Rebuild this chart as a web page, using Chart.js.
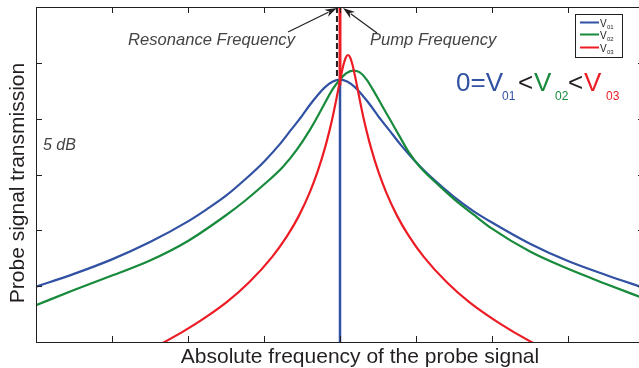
<!DOCTYPE html>
<html>
<head>
<meta charset="utf-8">
<script src="https://cdn.jsdelivr.net/npm/chart.js@4"></script>
<style>
  html, body { margin: 0; padding: 0; background: #fff; overflow: hidden; }
  #wrap { width: 648px; height: 368px; }
</style>
</head>
<body>
<div id="wrap"><canvas id="chart" width="648" height="368"></canvas></div>
<script>
// x: probe detuning in tick units, y: transmission in tick units (1 tick = 5 dB)
const xTicks = [-4, -3, -2, -1, 0, 1, 2, 3, 4];
const yTicks = [0, 1, 2, 3, 4, 5, 6];

const blueX = [-4, -3.5, -3, -2.5, -2, -1.75, -1.5, -1.25, -1, -0.8, -0.65, -0.5, -0.4, -0.3, -0.2, -0.1, 0,
               0.1, 0.2, 0.3, 0.4, 0.5, 0.65, 0.8, 1, 1.25, 1.5, 1.75, 2, 2.5, 3, 3.5, 4];
const blueY = [0.99, 1.22, 1.48, 1.79, 2.16, 2.38, 2.62, 2.91, 3.23, 3.53, 3.79, 4.05, 4.24, 4.41, 4.56, 4.66, 4.7,
               4.66, 4.56, 4.41, 4.24, 4.05, 3.79, 3.53, 3.22, 2.89, 2.6, 2.35, 2.14, 1.76, 1.45, 1.2, 0.97];

const greenX = [-4, -3.5, -3, -2.5, -2, -1.5, -1.25, -1, -0.75, -0.57, -0.4, -0.25, -0.1, 0, 0.08, 0.17,
                0.26, 0.35, 0.45, 0.55, 0.66, 0.79, 0.9, 1.05, 1.28, 1.5, 1.75, 2, 2.5, 3, 3.5, 4];
const greenY = [0.66, 0.93, 1.19, 1.46, 1.81, 2.27, 2.53, 2.82, 3.14, 3.44, 3.79, 4.15, 4.52, 4.7, 4.81, 4.86,
                4.83, 4.7, 4.48, 4.24, 3.98, 3.67, 3.41, 3.14, 2.83, 2.56, 2.29, 2.03, 1.62, 1.31, 1.04, 0.78];

const redX = [-2.695, -2.295, -1.895, -1.495, -1.195, -0.895, -0.695, -0.545, -0.395, -0.295, -0.195, -0.145,
              -0.095, -0.045, -0.015, 0.015, 0.045, 0.075, 0.105, 0.135, 0.165, 0.195, 0.225, 0.255, 0.305,
              0.355, 0.405, 0.505, 0.605, 0.755, 0.905, 1.105, 1.405, 1.705, 2.105, 2.505, 2.905];
const redY = [-0.26, 0.01, 0.33, 0.71, 1.07, 1.52, 1.9, 2.25, 2.69, 3.05, 3.49, 3.75, 4.04, 4.37, 4.58, 4.78,
              4.96, 5.09, 5.14, 5.09, 4.96, 4.78, 4.58, 4.37, 4.04, 3.75, 3.49, 3.05, 2.69, 2.25, 1.9, 1.52,
              1.07, 0.71, 0.33, 0.01, -0.26];

// vertical features at the pump / resonance frequency
const pumpX = [0, 0];
const pumpY = [4.6, 6.5];
const blueDipX = [0, 0];
const blueDipY = [4.7, -0.2];
const resX = [-0.04, -0.04];
const resY = [6, 4.72];

const seriesNames = ['01', '02', '03'];
const BLUE = '#3151a3', GREEN = '#178a3c', RED = '#ec1c24', INK = '#231f20';

function pts(xs, ys) {
    return xs.map((x, i) => ({ x: x, y: ys[i] }));
}

function arrow(ctx, x1, y1, x2, y2) {
    const a = Math.atan2(y2 - y1, x2 - x1);
    const len = 12, w = 4;
    ctx.beginPath();
    ctx.moveTo(x1, y1);
    ctx.lineTo(x2 - Math.cos(a) * len * 0.8, y2 - Math.sin(a) * len * 0.8);
    ctx.stroke();
    ctx.beginPath();
    ctx.moveTo(x2, y2);
    ctx.lineTo(x2 - Math.cos(a) * len - Math.sin(a) * w, y2 - Math.sin(a) * len + Math.cos(a) * w);
    ctx.lineTo(x2 - Math.cos(a) * len * 0.7, y2 - Math.sin(a) * len * 0.7);
    ctx.lineTo(x2 - Math.cos(a) * len + Math.sin(a) * w, y2 - Math.sin(a) * len - Math.cos(a) * w);
    ctx.closePath();
    ctx.fill();
}

const decor = {
    id: 'decor',
    afterDatasetsDraw(chart) {
        const ctx = chart.ctx;
        const a = chart.chartArea;
        const xs = chart.scales.x, ys = chart.scales.y;
        ctx.save();

        // frame with inward ticks
        ctx.strokeStyle = INK;
        ctx.lineWidth = 1;
        ctx.strokeRect(a.left + 0.5, a.top + 0.5, a.right - a.left, a.bottom - a.top);
        ctx.beginPath();
        xTicks.slice(1, -1).forEach(v => {
            const px = Math.round(xs.getPixelForValue(v)) + 0.5;
            ctx.moveTo(px, a.bottom); ctx.lineTo(px, a.bottom - 6);
            ctx.moveTo(px, a.top); ctx.lineTo(px, a.top + 6);
        });
        yTicks.slice(1, -1).forEach(v => {
            const py = Math.round(ys.getPixelForValue(v)) + 0.5;
            ctx.moveTo(a.left, py); ctx.lineTo(a.left + 6, py);
            ctx.moveTo(a.right, py); ctx.lineTo(a.right - 6, py);
        });
        ctx.stroke();

        // axis titles
        ctx.fillStyle = INK;
        ctx.font = '21px "Liberation Sans", Arial, sans-serif';
        ctx.textAlign = 'center';
        ctx.textBaseline = 'alphabetic';
        ctx.fillText('Absolute frequency of the probe signal', 360, 363);
        ctx.save();
        ctx.translate(24, 183);
        ctx.rotate(-Math.PI / 2);
        ctx.fillText('Probe signal transmission', 0, 0);
        ctx.restore();

        // annotations
        ctx.fillStyle = '#444';
        ctx.strokeStyle = INK;
        ctx.font = 'italic 16.6px "Liberation Sans", Arial, sans-serif';
        ctx.textAlign = 'left';
        ctx.fillText('Resonance Frequency', 128, 45);
        ctx.fillText('Pump Frequency', 370, 45);
        ctx.font = 'italic 16px "Liberation Sans", Arial, sans-serif';
        ctx.fillText('5 dB', 43, 150);
        ctx.fillStyle = INK;
        ctx.lineWidth = 1.2;
        const cx = xs.getPixelForValue(0);
        arrow(ctx, 288, 32, cx - 3, a.top + 1);
        arrow(ctx, 377, 33, cx + 3, a.top + 1);

        // 0=V01<V02<V03
        const big = '26px "Liberation Sans", Arial, sans-serif';
        const small = '12px "Liberation Sans", Arial, sans-serif';
        const parts = [
            ['0=V', BLUE, big, 456, 91], ['01', BLUE, small, 502, 100],
            ['<', INK, big, 518, 91], ['V', GREEN, big, 534, 91], ['02', GREEN, small, 555, 100],
            ['<', INK, big, 568, 91], ['V', RED, big, 584, 91], ['03', RED, small, 606, 100]
        ];
        parts.forEach(p => {
            ctx.font = p[2];
            ctx.fillStyle = p[1];
            ctx.fillText(p[0], p[3], p[4]);
        });

        // legend box
        ctx.fillStyle = '#fff';
        ctx.fillRect(575, 14, 47, 43);
        ctx.strokeStyle = INK;
        ctx.lineWidth = 1;
        ctx.strokeRect(575.5, 14.5, 47, 43);
        const rows = [22.5, 34.5, 47.5];
        [BLUE, GREEN, RED].forEach((c, i) => {
            ctx.strokeStyle = c;
            ctx.lineWidth = 2;
            ctx.beginPath();
            ctx.moveTo(580, rows[i]); ctx.lineTo(599, rows[i]);
            ctx.stroke();
            ctx.fillStyle = INK;
            ctx.font = '10px "Liberation Sans", Arial, sans-serif';
            ctx.fillText('V', 600, rows[i] + 4);
            ctx.font = '6px "Liberation Sans", Arial, sans-serif';
            ctx.fillText(seriesNames[i], 607, rows[i] + 6);
        });

        ctx.restore();
    }
};

const line = (data, color, width, order, extra) => Object.assign({
    data: data,
    borderColor: color,
    borderWidth: width,
    pointRadius: 0,
    fill: false,
    order: order,
    cubicInterpolationMode: 'monotone'
}, extra || {});

new Chart(document.getElementById('chart'), {
    type: 'line',
    data: {
        datasets: [
            line(pts(blueX, blueY), BLUE, 2.2, 5),
            line(pts(blueDipX, blueDipY), BLUE, 2.5, 4, { cubicInterpolationMode: 'default', tension: 0 }),
            line(pts(greenX, greenY), GREEN, 2.2, 3),
            line(pts(resX, resY), INK, 2, 2, { cubicInterpolationMode: 'default', tension: 0, borderDash: [6, 3] }),
            line(pts(redX, redY), RED, 2.2, 1),
            line(pts(pumpX, pumpY), RED, 3, 0, { cubicInterpolationMode: 'default', tension: 0 })
        ]
    },
    options: {
        responsive: false,
        animation: false,
        layout: { padding: { left: 36, right: 4, top: 7, bottom: 26 } },
        scales: {
            x: { type: 'linear', min: -4, max: 4, display: false },
            y: { min: 0, max: 6, display: false }
        },
        plugins: {
            legend: { display: false },
            tooltip: { enabled: false }
        }
    },
    plugins: [decor]
});
</script>
</body>
</html>
